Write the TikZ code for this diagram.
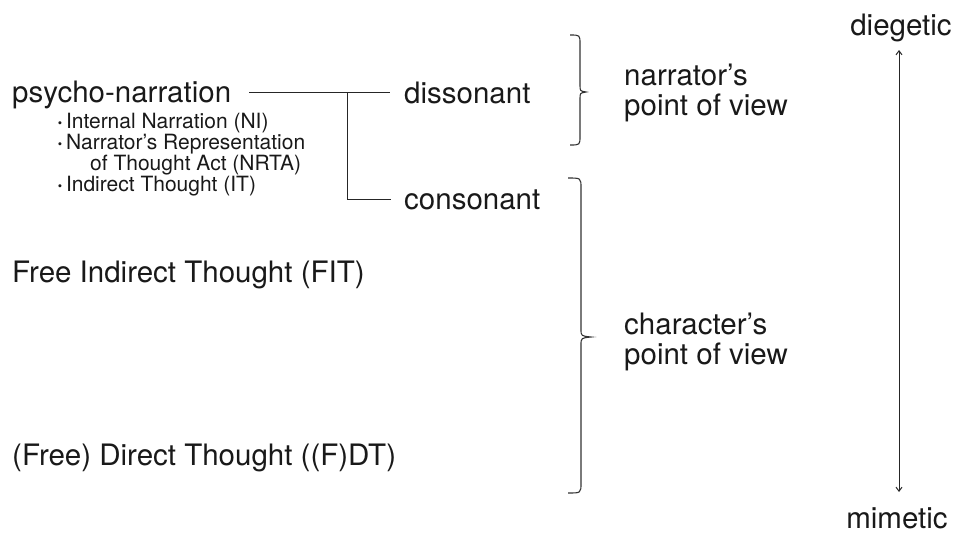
\documentclass[tikz,border=0pt]{standalone}
\usepackage{fontspec}
\setmainfont{TeX Gyre Heros}
\usetikzlibrary{arrows.meta}
\newcommand{\mybul}{\textbf{·}\hspace{3pt}}
\begin{document}
\begin{tikzpicture}[x=1pt,y=-1pt,
  big/.style={inner sep=0pt,anchor=base west,font=\fontsize{29.5}{33}\selectfont,text=black!90},
  small/.style={inner sep=0pt,anchor=base west,font=\fontsize{21}{22}\selectfont,text=black!90},
  conn/.style={line width=1pt,black!85},
  bracestyle/.style={line width=1.1pt,black!80}]
\useasboundingbox (0,0) rectangle (960,533);
% left column
\node[big] (psy) at (12,102) {psycho-narration};
\node[small] (ni) at (57,128) {\mybul Internal Narration (NI)};
\node[small] (nr) at (57,149) {\mybul Narrator’s Representation};
\node[small] (nr2) at (90,170) {of Thought Act (NRTA)};
\node[small] (it) at (57,191) {\mybul Indirect Thought (IT)};
\node[big] (fit) at (12,282) {Free Indirect Thought (FIT)};
\node[big] (fdt) at (12,465) {(Free) Direct Thought ((F)DT)};
% middle
\node[big] (dis) at (404,103) {dissonant};
\node[big] (con) at (404,209) {consonant};
\coordinate (j1) at (347,92);
\coordinate (j2) at (347,199);
\coordinate (s1) at (249,92);
\coordinate (e1) at (390,92);
\coordinate (e2) at (391,199);
\draw[conn] (s1) -- (e1);
\draw[conn] (j1) -- (j2) -- (e2);
% braces
\draw[bracestyle] (570,35) .. controls (580,35) .. (580,44) -- (580,85)
  .. controls (580,91) .. (586,92) .. controls (580,93) .. (580,99) -- (580,136)
  .. controls (580,145) .. (570,145);
\draw[bracestyle] (568,178) .. controls (581,178) .. (581,188) -- (581,329)
  .. controls (581,336) .. (591,337) .. controls (581,338) .. (581,345) -- (581,483)
  .. controls (581,493) .. (568,493);
\node[big] (nar) at (624,85) {narrator’s};
\node[big] (nar2) at (624,115) {point of view};
\node[big] (cha) at (624,334) {character’s};
\node[big] (cha2) at (624,364) {point of view};
% axis
\node[big,anchor=base] (die) at (901,35) {diegetic};
\node[big,anchor=base] (mim) at (897,528) {mimetic};
\coordinate (a1) at (899,50);
\coordinate (a2) at (899,492);
\draw[conn,{Straight Barb[length=4pt,width=6pt]}-{Straight Barb[length=4pt,width=6pt]}] (a1) -- (a2);
\end{tikzpicture}
\end{document}
